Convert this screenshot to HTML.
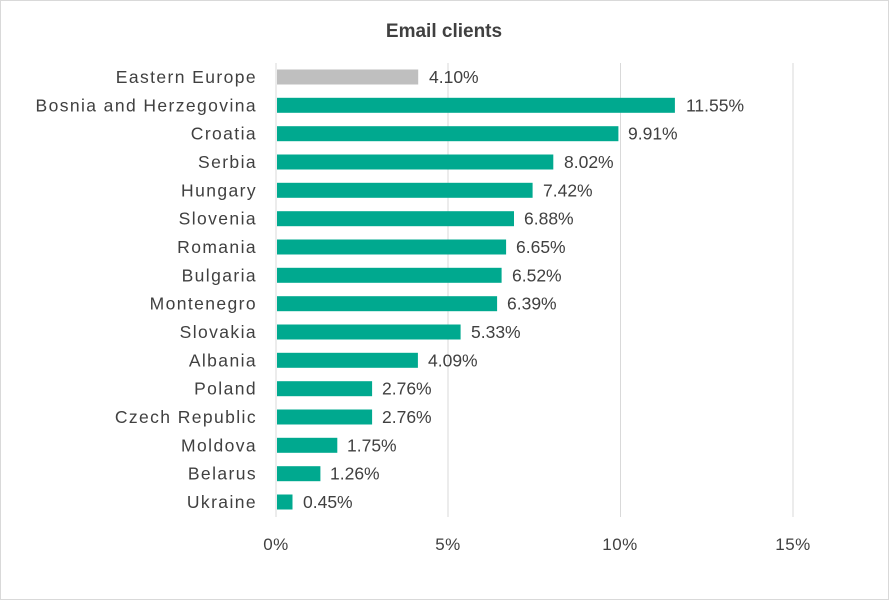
<!DOCTYPE html>
<html><head><style>
body{margin:0;background:#fff}
svg{display:block;font-family:"Liberation Sans",sans-serif}
</style></head><body>
<svg width="889" height="600" xmlns="http://www.w3.org/2000/svg">
<rect x="0.5" y="0.5" width="888" height="599" fill="#fff" stroke="#d9d9d9"/>
<text x="444" y="37" text-anchor="middle" font-size="19" font-weight="bold" fill="#404040">Email clients</text>
<g stroke="#d9d9d9" stroke-width="1">
<line x1="276" y1="63" x2="276" y2="517"/>
<line x1="448" y1="63" x2="448" y2="517"/>
<line x1="620.5" y1="63" x2="620.5" y2="517"/>
<line x1="793" y1="63" x2="793" y2="517"/>
</g>
<g font-size="17" fill="#404040" text-anchor="middle" letter-spacing="0.5">
<text x="276" y="550">0%</text><text x="448" y="550">5%</text><text x="620" y="550">10%</text><text x="793" y="550">15%</text>
</g>
<g fill="#00a98f">
<rect x="277" y="69.5" width="141.2" height="15" fill="#bfbfbf"/>
<rect x="277" y="97.8" width="397.9" height="15"/>
<rect x="277" y="126.2" width="341.4" height="15"/>
<rect x="277" y="154.5" width="276.3" height="15"/>
<rect x="277" y="182.8" width="255.6" height="15"/>
<rect x="277" y="211.2" width="237.0" height="15"/>
<rect x="277" y="239.5" width="229.1" height="15"/>
<rect x="277" y="267.8" width="224.6" height="15"/>
<rect x="277" y="296.2" width="220.1" height="15"/>
<rect x="277" y="324.5" width="183.6" height="15"/>
<rect x="277" y="352.8" width="140.9" height="15"/>
<rect x="277" y="381.2" width="95.1" height="15"/>
<rect x="277" y="409.5" width="95.1" height="15"/>
<rect x="277" y="437.8" width="60.3" height="15"/>
<rect x="277" y="466.2" width="43.4" height="15"/>
<rect x="277" y="494.5" width="15.5" height="15"/>
</g>
<g font-size="17.5" fill="#404040" text-anchor="end" letter-spacing="1.4">
<text x="257" y="83">Eastern Europe</text>
<text x="257" y="111.3">Bosnia and Herzegovina</text>
<text x="257" y="139.7">Croatia</text>
<text x="257" y="168">Serbia</text>
<text x="257" y="196.3">Hungary</text>
<text x="257" y="224.7">Slovenia</text>
<text x="257" y="253">Romania</text>
<text x="257" y="281.3">Bulgaria</text>
<text x="257" y="309.7">Montenegro</text>
<text x="257" y="338">Slovakia</text>
<text x="257" y="366.3">Albania</text>
<text x="257" y="394.7">Poland</text>
<text x="257" y="423">Czech Republic</text>
<text x="257" y="451.3">Moldova</text>
<text x="257" y="479.7">Belarus</text>
<text x="257" y="508">Ukraine</text>
</g>
<g font-size="17.5" fill="#404040">
<text x="429" y="83">4.10%</text>
<text x="686" y="111.3">11.55%</text>
<text x="628" y="139.7">9.91%</text>
<text x="564" y="168">8.02%</text>
<text x="543" y="196.3">7.42%</text>
<text x="524" y="224.7">6.88%</text>
<text x="516" y="253">6.65%</text>
<text x="512" y="281.3">6.52%</text>
<text x="507" y="309.7">6.39%</text>
<text x="471" y="338">5.33%</text>
<text x="428" y="366.3">4.09%</text>
<text x="382" y="394.7">2.76%</text>
<text x="382" y="423">2.76%</text>
<text x="347" y="451.3">1.75%</text>
<text x="330" y="479.7">1.26%</text>
<text x="303" y="508">0.45%</text>
</g>
</svg>
</body></html>
